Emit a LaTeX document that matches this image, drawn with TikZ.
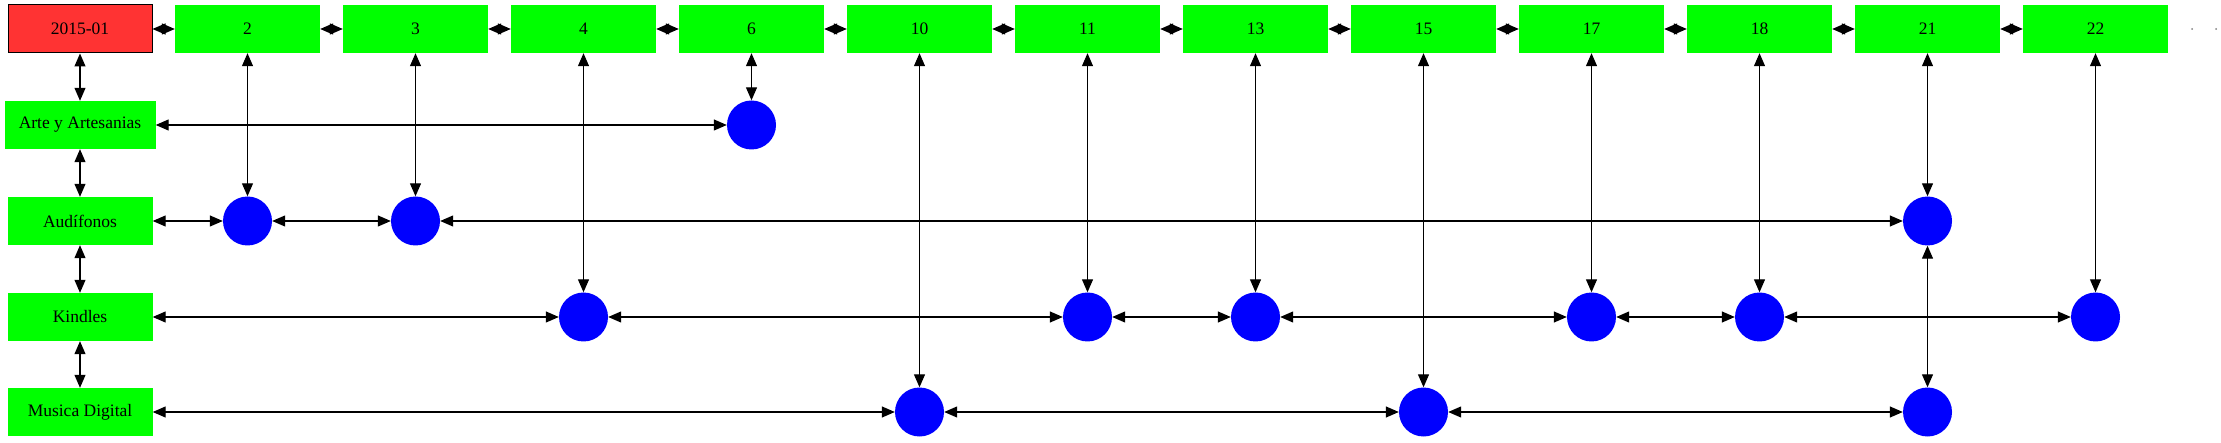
\documentclass[tikz,border=0pt]{standalone}
\usepackage{fontspec}
\setmainfont{Liberation Serif}
\usetikzlibrary{arrows.meta}
\definecolor{boxgreen}{RGB}{0,255,0}
\definecolor{datered}{RGB}{255,51,51}

\begin{document}
\begin{tikzpicture}[x=1pt, y=-1pt,
  every node/.style={font=\fontsize{17.5}{20}\selectfont, inner sep=0pt},
  month/.style={fill=boxgreen, minimum width=145pt, minimum height=48pt},
  datebox/.style={draw=black, line width=1pt, fill=datered, minimum width=144pt, minimum height=48pt},
  dot/.style={circle, fill=blue, minimum size=49pt},
  link/.style={{Triangle[length=13pt,width=11pt]}-{Triangle[length=13pt,width=11pt]}, line width=1.2pt}]
  \useasboundingbox (0,0) rectangle (2221,443);

  % months
  \node[datebox] (d) at (80, 29) {2015-01};
  \node[month] (t2) at (247.5, 29) {2};
  \node[month] (t3) at (415.5, 29) {3};
  \node[month] (t4) at (583.5, 29) {4};
  \node[month] (t6) at (751.5, 29) {6};
  \node[month] (t10) at (919.5, 29) {10};
  \node[month] (t11) at (1087.5, 29) {11};
  \node[month] (t13) at (1255.5, 29) {13};
  \node[month] (t15) at (1423.5, 29) {15};
  \node[month] (t17) at (1591.5, 29) {17};
  \node[month] (t18) at (1759.5, 29) {18};
  \node[month] (t21) at (1927.5, 29) {21};
  \node[month] (t22) at (2095.5, 29) {22};
  \coordinate (e1) at (2192, 29);
  \coordinate (e2) at (2216, 29);

  % categories
  \node[month, minimum width=151pt] (arte) at (80, 125) {Arte y Artesanias};
  \node[month] (audi) at (80, 221) {Audífonos};
  \node[month] (kin) at (80, 317) {Kindles};
  \node[month] (mus) at (80, 412) {Musica Digital};

  % sales
  \node[dot] (a6) at (751.5, 125) {};
  \node[dot] (h2) at (247.5, 221) {};
  \node[dot] (h3) at (415.5, 221) {};
  \node[dot] (h21) at (1927.5, 221) {};
  \node[dot] (k4) at (583.5, 317) {};
  \node[dot] (k11) at (1087.5, 317) {};
  \node[dot] (k13) at (1255.5, 317) {};
  \node[dot] (k17) at (1591.5, 317) {};
  \node[dot] (k18) at (1759.5, 317) {};
  \node[dot] (k22) at (2095.5, 317) {};
  \node[dot] (m10) at (919.5, 412) {};
  \node[dot] (m15) at (1423.5, 412) {};
  \node[dot] (m21) at (1927.5, 412) {};

  \draw[link] (d) -- (t2);
  \draw[link] (t2) -- (t3);
  \draw[link] (t3) -- (t4);
  \draw[link] (t4) -- (t6);
  \draw[link] (t6) -- (t10);
  \draw[link] (t10) -- (t11);
  \draw[link] (t11) -- (t13);
  \draw[link] (t13) -- (t15);
  \draw[link] (t15) -- (t17);
  \draw[link] (t17) -- (t18);
  \draw[link] (t18) -- (t21);
  \draw[link] (t21) -- (t22);
  \fill[gray] (e1) circle (1pt) (e2) circle (1pt);

  \draw[link] (d) -- (arte);
  \draw[link] (arte) -- (audi);
  \draw[link] (audi) -- (kin);
  \draw[link] (kin) -- (mus);

  \draw[link] (arte) -- (a6);
  \draw[link] (audi) -- (h2);
  \draw[link] (h2) -- (h3);
  \draw[link] (h3) -- (h21);
  \draw[link] (kin) -- (k4);
  \draw[link] (k4) -- (k11);
  \draw[link] (k11) -- (k13);
  \draw[link] (k13) -- (k17);
  \draw[link] (k17) -- (k18);
  \draw[link] (k18) -- (k22);
  \draw[link] (mus) -- (m10);
  \draw[link] (m10) -- (m15);
  \draw[link] (m15) -- (m21);

  \draw[link] (t2) -- (h2);
  \draw[link] (t3) -- (h3);
  \draw[link] (t4) -- (k4);
  \draw[link] (t6) -- (a6);
  \draw[link] (t10) -- (m10);
  \draw[link] (t11) -- (k11);
  \draw[link] (t13) -- (k13);
  \draw[link] (t15) -- (m15);
  \draw[link] (t17) -- (k17);
  \draw[link] (t18) -- (k18);
  \draw[link] (t21) -- (h21);
  \draw[link] (h21) -- (m21);
  \draw[link] (t22) -- (k22);
\end{tikzpicture}
\end{document}
